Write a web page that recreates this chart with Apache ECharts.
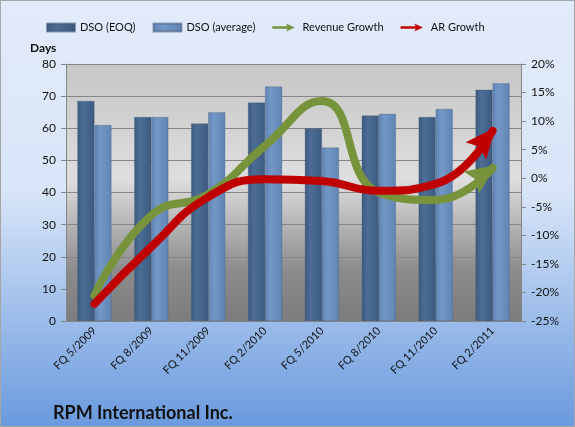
<!DOCTYPE html>
<html>
<head>
<meta charset="utf-8">
<script src="https://cdn.jsdelivr.net/npm/echarts@6/dist/echarts.min.js"></script>
<style>
  html, body { margin: 0; padding: 0; }
  #chart { width: 573px; height: 425px; border: 1px solid #a6a6a6; }
</style>
</head>
<body>
<div id="chart"></div>
<script>
const quarters = ["FQ 5/2009", "FQ 8/2009", "FQ 11/2009", "FQ 2/2010", "FQ 5/2010", "FQ 8/2010", "FQ 11/2010", "FQ 2/2011"];
const dsoEoq = [68.5, 63.5, 61.5, 68, 60, 64, 63.5, 72];
const dsoAvg = [61, 63.5, 65, 73, 54, 64.5, 66, 74];
const revenueGrowth = [-20.5, -6.5, -2.8, 5.7, 13.5, -2.5, -3.8, 1.8];
const arGrowth = [-22, -12, -3.3, -0.2, -0.5, -2.2, -1, 8.3];

const font = "Lato, 'Open Sans', sans-serif";
const arrowIcon = "path://M0,3.5 L19,3.5 L17,0 L28,5 L17,10 L19,6.5 L0,6.5 Z";
const arrowHead = "path://M10,0 L20,22 L10,18 L0,22 Z";

const chart = echarts.init(document.getElementById("chart"));

// cylinder-ish shading across the bar
function barStyle(c1, c2) {
  return {
    color: new echarts.graphic.LinearGradient(0, 0, 1, 0, [
      { offset: 0, color: c2 }, { offset: 0.35, color: c1 }, { offset: 1, color: c2 }
    ]),
    borderColor: "rgba(60,80,110,0.5)", borderWidth: 0.5
  };
}

// last point gets the arrow head
function withArrow(vals, rot, off) {
  return vals.map((v, i) => i === vals.length - 1
    ? { value: v, symbol: arrowHead, symbolSize: [27, 30], symbolRotate: rot, symbolOffset: off }
    : v);
}

chart.setOption({
  backgroundColor: new echarts.graphic.LinearGradient(0, 0, 0, 1, [
    { offset: 0, color: "#e2ebfb" }, { offset: 0.45, color: "#d8e5f8" }, { offset: 1, color: "#6a9ade" }
  ]),
  textStyle: { fontFamily: font },
  title: [
    { text: "Days", left: 24, top: 36, textStyle: { fontSize: 12, fontWeight: "bold", color: "#111", fontFamily: font } },
    { text: "RPM International Inc.", left: 47, top: 398, textStyle: { fontSize: 18, fontWeight: "bold", color: "#111", fontFamily: font } }
  ],
  legend: {
    left: 40, top: 16, itemGap: 17, itemWidth: 28, itemHeight: 8,
    textStyle: { fontSize: 11, color: "#111", fontFamily: font },
    data: [
      { name: "DSO (EOQ)", icon: "rect" },
      { name: "DSO (average)", icon: "rect" },
      { name: "Revenue Growth", icon: arrowIcon, itemStyle: { color: "#77933c" } },
      { name: "AR Growth", icon: arrowIcon, itemStyle: { color: "#c00000" } }
    ]
  },
  grid: {
    left: 65, right: 53, top: 63, bottom: 105, show: true, borderWidth: 0,
    backgroundColor: new echarts.graphic.LinearGradient(0, 0, 0, 1, [
      { offset: 0, color: "#c6c6c6" }, { offset: 0.45, color: "#dedede" }, { offset: 0.8, color: "#8c8c8c" }, { offset: 1, color: "#7c7c7c" }
    ])
  },
  xAxis: {
    type: "category", data: quarters,
    axisLine: { lineStyle: { color: "#868686" } },
    axisTick: { lineStyle: { color: "#868686" }, length: 5 },
    axisLabel: { rotate: 45, fontSize: 11, color: "#111", margin: 8 }
  },
  yAxis: [
    {
      type: "value", min: 0, max: 80, interval: 10,
      axisLine: { show: true, lineStyle: { color: "#868686" } },
      axisTick: { show: true, length: 5 },
      axisLabel: { fontSize: 12, color: "#111", margin: 10 },
      splitLine: { lineStyle: { color: "#868686" } }
    },
    {
      type: "value", min: -25, max: 20, interval: 5,
      axisLine: { show: true, lineStyle: { color: "#868686" } },
      axisTick: { show: true, length: 5 },
      axisLabel: { fontSize: 12, color: "#111", margin: 10, formatter: "{value}%" },
      splitLine: { show: false }
    }
  ],
  series: [
    {
      name: "DSO (EOQ)", type: "bar", data: dsoEoq, barGap: "0%", barCategoryGap: "40%",
      itemStyle: barStyle("#4d6d95", "#3c5a80"), color: "#4d6d95"
    },
    {
      name: "DSO (average)", type: "bar", data: dsoAvg,
      itemStyle: barStyle("#7498c6", "#5f84b3"), color: "#7498c6"
    },
    {
      name: "Revenue Growth", type: "line", yAxisIndex: 1, smooth: 0.5, symbol: "none",
      data: withArrow(revenueGrowth, -55, [-9, 6]),
      color: "#77933c",
      lineStyle: { width: 8, color: "#77933c", cap: "round" },
      itemStyle: { color: "#77933c" }
    },
    {
      name: "AR Growth", type: "line", yAxisIndex: 1, smooth: 0.5, symbol: "none",
      data: withArrow(arGrowth, -40, [-7, 8.5]),
      color: "#c00000",
      lineStyle: { width: 8, color: "#c00000", cap: "round" },
      itemStyle: { color: "#c00000" }
    }
  ]
});
</script>
</body>
</html>
